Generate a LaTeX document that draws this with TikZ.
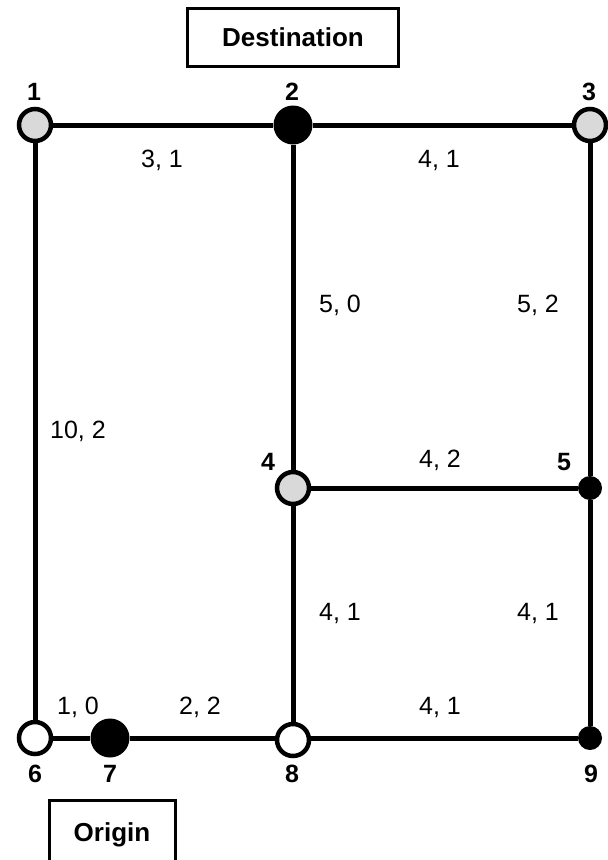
\documentclass[tikz,border=0pt]{standalone}
\usepackage{fontspec}
\setmainfont{Liberation Sans}
\begin{document}
\begin{tikzpicture}[x=1pt,y=-1pt,
  edge/.style={line width=5pt},
  opennode/.style={circle,draw,line width=4.5pt,fill=white,inner sep=0pt,minimum size=32pt},
  graynode/.style={opennode,fill=black!15},
  bignode/.style={circle,fill=black,inner sep=0pt,minimum size=39pt},
  smallnode/.style={circle,fill=black,inner sep=0pt,minimum size=24pt},
  nlabel/.style={font=\fontsize{25}{28}\selectfont\bfseries,inner sep=0pt},
  elabel/.style={font=\fontsize{25}{28}\selectfont,inner sep=0pt},
  tbox/.style={draw,line width=3pt,font=\fontsize{26}{28}\selectfont\bfseries,inner sep=0pt}]
\clip (0,0) rectangle (608,860);
\useasboundingbox (0,0) rectangle (608,860);
% nodes
\node[graynode] (n1) at (35,125) {};
\node[bignode] (n2) at (293,125) {};
\node[graynode] (n3) at (590,125) {};
\node[graynode] (n4) at (293,488) {};
\node[smallnode] (n5) at (590,488) {};
\node[opennode] (n6) at (35,738) {};
\node[bignode] (n7) at (110,738) {};
\node[opennode] (n8) at (293,740) {};
\node[smallnode] (n9) at (590,738) {};
% edges
\draw[edge] (n1) -- (n2);
\draw[edge] (n2) -- (n3);
\draw[edge] (n1) -- (n6);
\draw[edge] (n2) -- (n4);
\draw[edge] (n3) -- (n5);
\draw[edge] (n4) -- (n5);
\draw[edge] (n4) -- (n8);
\draw[edge] (n5) -- (n9);
\draw[edge] (n6) -- (n7);
\draw[edge] (n7) -- (n8.west |- n7);
\draw[edge] (n8.east |- n9) -- (n9);
% node labels
\node[nlabel] (l1) at (34,92) {1};
\node[nlabel] (l2) at (292,92) {2};
\node[nlabel] (l3) at (589,92) {3};
\node[nlabel] (l4) at (268,462) {4};
\node[nlabel] (l5) at (564,462) {5};
\node[nlabel] (l6) at (35,774) {6};
\node[nlabel] (l7) at (110,774) {7};
\node[nlabel] (l8) at (292,774) {8};
\node[nlabel] (l9) at (591,774) {9};
% edge labels
\node[elabel] (e12) at (162,160) {3, 1};
\node[elabel] (e23) at (439,160) {4, 1};
\node[elabel] (e16) at (78,431) {10, 2};
\node[elabel] (e24) at (340,305) {5, 0};
\node[elabel] (e35) at (538,305) {5, 2};
\node[elabel] (e45) at (440,460) {4, 2};
\node[elabel] (e48) at (340,613) {4, 1};
\node[elabel] (e59) at (538,613) {4, 1};
\node[elabel] (e67) at (78,707) {1, 0};
\node[elabel] (e78) at (200,707) {2, 2};
\node[elabel] (e89) at (440,707) {4, 1};
% boxes
\node[tbox,minimum width=211pt,minimum height=58pt] (dest) at (293,37) {Destination};
\node[tbox,minimum width=126pt,minimum height=70pt] (orig) at (112,835) {Origin};
\end{tikzpicture}
\end{document}
